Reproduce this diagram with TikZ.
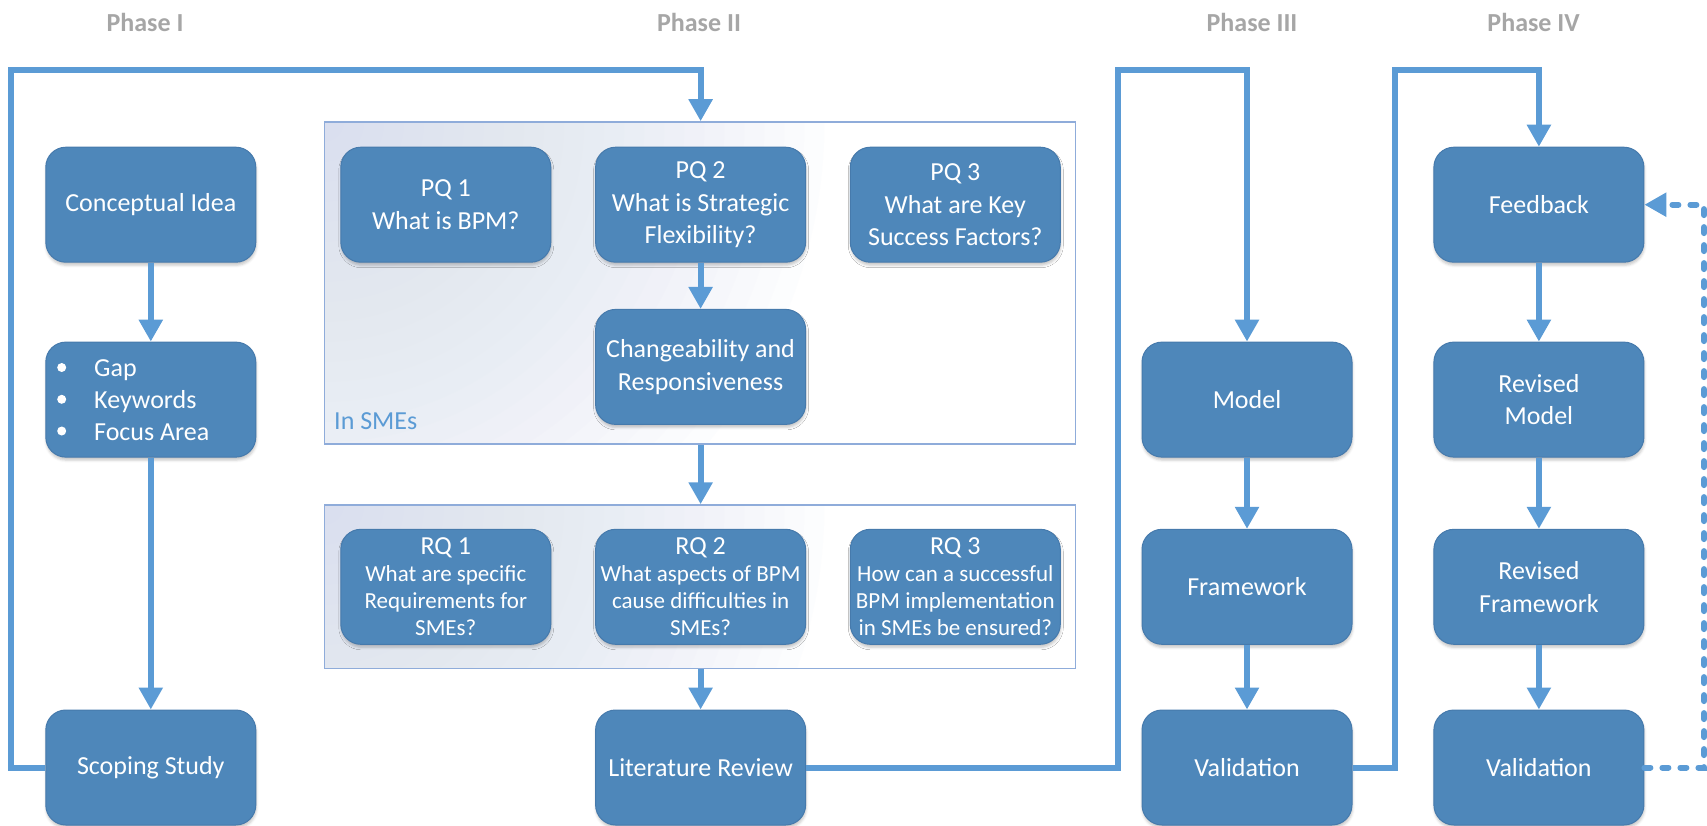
\documentclass[tikz,border=0pt]{standalone}
\usepackage{fontspec}
\setmainfont{Carlito}
\usetikzlibrary{arrows.meta,shadows.blur}

\definecolor{boxblue}{RGB}{78,135,186}
\definecolor{boxedge}{RGB}{70,122,172}
\definecolor{linkblue}{RGB}{91,155,213}
\definecolor{phasegray}{RGB}{166,166,166}
\definecolor{frameedge}{RGB}{143,172,218}
\definecolor{frametint}{RGB}{214,223,239}

% type sizes: step titles and the smaller research-question bodies
\newcommand\titlefont{\fontsize{26}{27}\selectfont}
\newcommand\rqfont{\fontsize{23}{27}\selectfont}

\tikzset{
  stepbox/.style={rectangle, rounded corners=20pt, fill=boxblue, draw=boxedge,
    line width=1pt, minimum width=210pt, minimum height=115pt, inner sep=0pt,
    text=white, align=center, font=\fontsize{26}{32.7}\selectfont,
    blur shadow={shadow xshift=0.5pt, shadow yshift=-3pt, shadow opacity=22,
      shadow blur radius=2.5pt}},
  rqbox/.style={stepbox, font=\rqfont},
  % group frame: white with a soft tint spreading from the top-left corner,
  % built from stacked translucent discs
  qframe/.style={rectangle, draw=frameedge, line width=1.6pt, inner sep=0pt,
    fill=white,
    path picture={\foreach \r in {20,40,...,500}
      \fill[frametint, fill opacity=0.05]
        (path picture bounding box.north west) circle (\r pt);}},
  conn/.style={draw=linkblue, line width=6pt, -{Triangle[width=23pt,length=22pt]}},
  dotlink/.style={conn, line cap=round, dash pattern=on 6pt off 12pt},
  phase/.style={text=phasegray, font=\bfseries\fontsize{26}{30}\selectfont, inner sep=0pt},
  listline/.style={anchor=base west, text=white, inner sep=0pt,
    font=\fontsize{26}{31.6}\selectfont},
  listdot/.style={circle, fill=white, inner sep=0pt, minimum size=9pt},
  framelabel/.style={anchor=west, inner sep=0pt, text=linkblue,
    font=\fontsize{26}{30}\selectfont},
}

\begin{document}
\begin{tikzpicture}[x=1pt, y=-1pt]
\useasboundingbox (0,0) rectangle (1707,825);
\clip (0,0) rectangle (1707,825);

% phase headings
\node[phase] (ph1) at (145,22.5) {Phase I};
\node[phase] (ph2) at (699,22.5) {Phase II};
\node[phase] (ph3) at (1252,22.5) {Phase III};
\node[phase] (ph4) at (1533.6,22.5) {Phase IV};

% frames around the question groups
\node[qframe, minimum width=751.2pt, minimum height=322.2pt] (pqframe) at (700,283.1) {};
\node[qframe, minimum width=751.2pt, minimum height=163.5pt] (rqframe) at (700,586.8) {};
\node[framelabel] (smes) at (334,421) {In SMEs};

% Phase I
\node[stepbox] (idea) at (150.8,204.7) {Conceptual Idea};
\node[stepbox] (focus) at (150.8,399.6) {};
\node[listdot] (d1) at (61.7,367.5) {};
\node[listdot] (d2) at (61.7,399.3) {};
\node[listdot] (d3) at (61.7,431) {};
\node[listline] (l1) at (94,376.7) {Gap};
\node[listline] (l2) at (94,408.4) {Keywords};
\node[listline] (l3) at (94,440.1) {Focus Area};
\node[stepbox] (scope) at (150.8,767.5) {Scoping Study};

% Phase II
\node[stepbox] (pq1) at (445.8,204.7) {PQ 1\\What is BPM?};
\node[stepbox] (pq2) at (700.6,204.7) {PQ 2\\What is Strategic\\Flexibility?};
\node[stepbox] (pq3) at (955.3,204.7) {PQ 3\\What are Key\\Success Factors?};
\node[stepbox] (change) at (700.6,366.9) {Changeability and\\Responsiveness};
\node[rqbox] (rq1) at (445.8,586.8) {{\titlefont RQ 1}\\What are specific\\Requirements for\\SMEs?};
\node[rqbox] (rq2) at (700.6,586.8) {{\titlefont RQ 2}\\What aspects of BPM\\cause difficulties in\\SMEs?};
\node[rqbox] (rq3) at (955.3,586.8) {{\titlefont RQ 3}\\How can a successful\\BPM implementation\\in SMEs be ensured?};
\node[stepbox] (lit) at (700.6,767.5) {Literature Review};

% Phase III
\node[stepbox] (model) at (1247,399.6) {Model};
\node[stepbox] (fwk) at (1247,586.8) {Framework};
\node[stepbox] (valid) at (1247,767.5) {Validation};

% Phase IV
\node[stepbox] (feedback) at (1538.9,204.7) {Feedback};
\node[stepbox] (rmodel) at (1538.9,399.6) {Revised\\Model};
\node[stepbox] (rfwk) at (1538.9,586.8) {Revised\\Framework};
\node[stepbox] (rvalid) at (1538.9,767.5) {Validation};

% flow inside the phases
\draw[conn] (idea) -- (focus);
\draw[conn] (focus) -- (scope);
\draw[conn] (pq2) -- (change);
\draw[conn] (pq2 |- pqframe.south) -- (pq2 |- rqframe.north);
\draw[conn] (lit |- rqframe.south) -- (lit);
\draw[conn] (model) -- (fwk);
\draw[conn] (fwk) -- (valid);
\draw[conn] (feedback) -- (rmodel);
\draw[conn] (rmodel) -- (rfwk);
\draw[conn] (rfwk) -- (rvalid);

% hand-overs between the phases
\coordinate (loopA) at (11,70);
\coordinate (loopB) at (1118,70);
\coordinate (loopC) at (1395,70);
\coordinate (loopD) at (1704,204.7);
\draw[conn] (scope.west) -| (loopA) -| (pq2 |- pqframe.north);
\draw[conn] (lit.east) -| (loopB) -| (model.north);
\draw[conn] (valid.east) -| (loopC) -| (feedback.north);
\draw[dotlink] (rvalid.east) -| (loopD) -- (feedback.east);
\end{tikzpicture}
\end{document}
